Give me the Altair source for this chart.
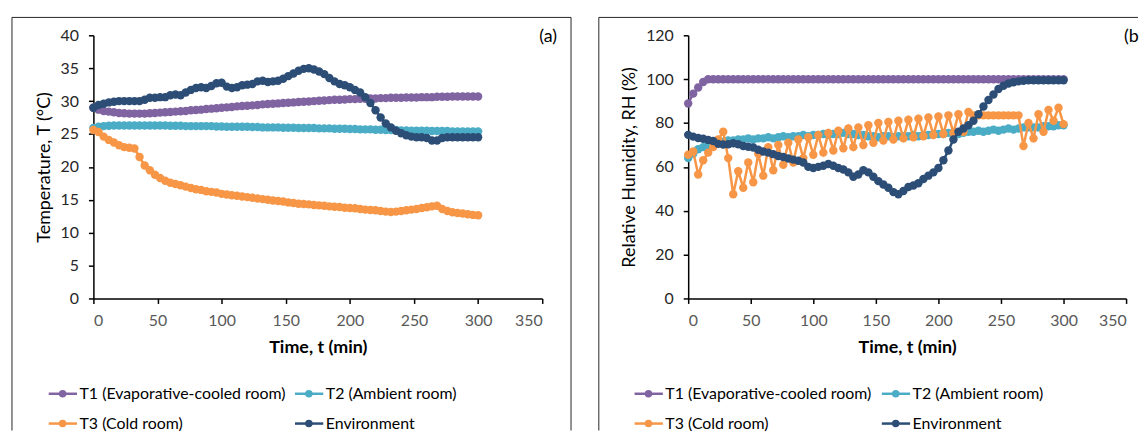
import altair as alt
import pandas as pd

FONT = "Lato"

# ---------------- data ----------------
time_min = [0, 4, 8, 12, 16, 20, 24, 28, 32, 36,
            40, 44, 48, 52, 56, 60, 64, 68, 72, 76,
            80, 84, 88, 92, 96, 100, 104, 108, 112, 116,
            120, 124, 128, 132, 136, 140, 144, 148, 152, 156,
            160, 164, 168, 172, 176, 180, 184, 188, 192, 196,
            200, 204, 208, 212, 216, 220, 224, 228, 232, 236,
            240, 244, 248, 252, 256, 260, 264, 268, 272, 276,
            280, 284, 288, 292, 296, 300]

series_names = ["T1 (Evaporative-cooled room)", "T2 (Ambient room)",
                "T3 (Cold room)", "Environment"]
series_colors = ["#8064A2", "#4BACC6", "#F79646", "#2C4D75"]

# (a) temperature, degC
temp_t1 = [29.0, 28.7, 28.5, 28.4, 28.3, 28.2, 28.15, 28.1, 28.1, 28.1,
           28.1, 28.15, 28.2, 28.25, 28.3, 28.35, 28.4, 28.45, 28.5, 28.6,
           28.65, 28.7, 28.8, 28.85, 28.9, 29.0, 29.05, 29.1, 29.2, 29.25,
           29.3, 29.35, 29.4, 29.5, 29.55, 29.6, 29.65, 29.7, 29.75, 29.8,
           29.85, 29.9, 29.95, 30.0, 30.05, 30.1, 30.15, 30.2, 30.2, 30.25,
           30.3, 30.3, 30.35, 30.35, 30.4, 30.4, 30.45, 30.45, 30.5, 30.5,
           30.5, 30.55, 30.55, 30.55, 30.6, 30.6, 30.6, 30.65, 30.65, 30.65,
           30.7, 30.7, 30.7, 30.7, 30.7, 30.7]
temp_t2 = [25.9, 26.1, 26.2, 26.25, 26.3, 26.3, 26.3, 26.3, 26.3, 26.3,
           26.3, 26.3, 26.3, 26.3, 26.3, 26.25, 26.25, 26.25, 26.2, 26.2,
           26.2, 26.2, 26.2, 26.2, 26.15, 26.15, 26.1, 26.1, 26.1, 26.1,
           26.1, 26.05, 26.05, 26.0, 26.0, 26.0, 26.0, 25.95, 25.95, 25.95,
           25.9, 25.9, 25.9, 25.9, 25.85, 25.85, 25.85, 25.8, 25.8, 25.8,
           25.75, 25.75, 25.7, 25.7, 25.7, 25.65, 25.65, 25.6, 25.6, 25.6,
           25.55, 25.55, 25.5, 25.5, 25.5, 25.5, 25.45, 25.45, 25.45, 25.45,
           25.4, 25.4, 25.4, 25.4, 25.4, 25.4]
temp_t3 = [25.6, 25.3, 24.6, 24.1, 23.7, 23.3, 23.0, 22.9, 22.8, 21.5,
           20.2, 19.5, 18.8, 18.3, 17.9, 17.6, 17.4, 17.2, 17.0, 16.8,
           16.6, 16.5, 16.3, 16.2, 16.1, 15.9, 15.8, 15.7, 15.6, 15.5,
           15.4, 15.3, 15.2, 15.1, 15.0, 14.9, 14.8, 14.75, 14.6, 14.5,
           14.4, 14.35, 14.3, 14.2, 14.15, 14.1, 14.0, 13.95, 13.9, 13.8,
           13.75, 13.7, 13.6, 13.5, 13.45, 13.4, 13.3, 13.2, 13.15, 13.2,
           13.3, 13.4, 13.5, 13.6, 13.75, 13.85, 14.0, 14.1, 13.6, 13.3,
           13.1, 13.0, 12.9, 12.8, 12.7, 12.65]
temp_env = [29.0, 29.4, 29.6, 29.8, 29.9, 30.0, 30.0, 30.0, 30.0, 30.0,
            30.2, 30.5, 30.5, 30.6, 30.6, 30.9, 31.0, 30.9, 31.3, 31.7,
            32.0, 32.1, 32.0, 32.3, 32.7, 32.8, 32.2, 32.0, 32.1, 32.4,
            32.5, 32.6, 33.0, 33.1, 32.9, 33.0, 33.1, 33.4, 33.8, 34.2,
            34.6, 34.9, 35.0, 34.8, 34.5, 34.1, 33.5, 33.0, 32.6, 32.4,
            32.1, 31.7, 31.3, 30.6, 29.7, 28.6, 27.5, 26.6, 26.0, 25.5,
            25.1, 24.8, 24.6, 24.5, 24.5, 24.4, 24.0, 24.0, 24.4, 24.5,
            24.5, 24.5, 24.5, 24.5, 24.5, 24.5]

# (b) relative humidity, %
rh_t1 = [88.9, 93.4, 96.2, 98.7, 100.0, 100.0, 100.0, 100.0, 100.0, 100.0,
         100.0, 100.0, 100.0, 100.0, 100.0, 100.0, 100.0, 100.0, 100.0, 100.0,
         100.0, 100.0, 100.0, 100.0, 100.0, 100.0, 100.0, 100.0, 100.0, 100.0,
         100.0, 100.0, 100.0, 100.0, 100.0, 100.0, 100.0, 100.0, 100.0, 100.0,
         100.0, 100.0, 100.0, 100.0, 100.0, 100.0, 100.0, 100.0, 100.0, 100.0,
         100.0, 100.0, 100.0, 100.0, 100.0, 100.0, 100.0, 100.0, 100.0, 100.0,
         100.0, 100.0, 100.0, 100.0, 100.0, 100.0, 100.0, 100.0, 100.0, 100.0,
         100.0, 100.0, 100.0, 100.0, 100.0, 100.0]
rh_t2 = [64.0, 66.0, 68.0, 69.0, 70.0, 70.5, 71.0, 71.5, 72.0, 72.0,
         72.5, 72.5, 73.0, 72.5, 73.0, 73.0, 73.5, 73.0, 73.5, 74.0,
         73.5, 74.0, 74.0, 74.5, 74.0, 74.5, 74.5, 75.0, 74.5, 75.0,
         75.0, 75.5, 75.0, 75.0, 74.5, 74.5, 74.0, 74.0, 73.5, 74.0,
         74.0, 73.5, 74.0, 74.0, 74.0, 74.5, 74.0, 74.5, 74.5, 75.0,
         75.0, 75.0, 75.5, 75.5, 75.0, 75.5, 76.0, 76.0, 76.5, 76.0,
         76.5, 77.0, 76.5, 77.0, 77.5, 77.0, 77.5, 78.0, 78.0, 78.0,
         78.0, 78.5, 78.5, 78.5, 79.0, 79.0]
rh_t3 = [65.5, 67.0, 56.5, 63.0, 66.5, 69.0, 72.5, 76.0, 64.0, 47.5,
         58.0, 50.5, 62.0, 53.0, 66.0, 56.0, 69.0, 58.5, 70.0, 61.0,
         71.0, 62.0, 72.5, 64.0, 73.5, 65.5, 74.5, 66.5, 75.5, 67.5,
         76.5, 68.5, 77.5, 69.0, 78.0, 70.0, 79.0, 71.0, 80.0, 72.0,
         80.5, 72.5, 81.0, 73.0, 81.5, 73.5, 82.0, 74.0, 82.5, 74.5,
         83.0, 75.0, 83.5, 75.5, 84.0, 76.0, 85.0, 83.5, 83.5, 83.5,
         83.5, 83.5, 83.5, 83.5, 83.5, 83.5, 83.5, 69.5, 80.0, 73.0,
         84.0, 76.0, 86.0, 81.0, 87.0, 79.5]
rh_env = [74.6, 73.8, 73.2, 72.8, 72.3, 71.8, 70.5, 70.2, 70.3, 70.8,
          70.3, 69.5, 69.2, 68.8, 67.8, 67.0, 66.5, 65.8, 65.0, 64.5,
          63.8, 63.3, 62.8, 62.0, 60.0, 59.5, 60.0, 60.5, 61.3, 60.5,
          59.5, 58.8, 57.5, 55.5, 56.5, 58.5, 57.5, 55.5, 53.5, 52.0,
          50.5, 48.5, 47.5, 49.0, 50.8, 51.5, 52.5, 54.5, 56.0, 57.5,
          59.5, 63.0, 67.5, 72.5, 76.0, 77.5, 79.0, 81.0, 84.0, 87.5,
          90.5, 93.0, 95.5, 97.0, 98.0, 98.6, 99.0, 99.3, 99.5, 99.5,
          99.5, 99.5, 99.5, 99.5, 99.5, 99.5]

x_ticks = [0, 50, 100, 150, 200, 250, 300, 350]
temp_ticks = [0, 5, 10, 15, 20, 25, 30, 35, 40]
rh_ticks = [0, 20, 40, 60, 80, 100, 120]

# ---------------- layout / style ----------------
PLOT_H = 265
FRAME = "#262626"
MARK_SIZE = 72


def panel(values_list, y_title, y_ticks, width, tag, tag_x, tag_limit,
          frame_left, frame_right, top_end, legend_cols):
    x_scale = alt.Scale(domain=[0, 350], nice=False)
    y_scale = alt.Scale(domain=[y_ticks[0], y_ticks[-1]], nice=False)
    x_axis = alt.Axis(values=x_ticks, title="Time, t (min)", grid=False,
                      domainColor="#000000", domainWidth=1.5,
                      tickColor="#000000", tickWidth=1.5, tickSize=5,
                      labelColor="#595959", labelFont=FONT, labelFontSize=16,
                      labelPadding=9, titleFont=FONT, titleFontSize=18,
                      titleFontWeight="bold", titleColor="#000000",
                      titlePadding=10)
    y_axis = alt.Axis(values=y_ticks, title=y_title, grid=False,
                      domainColor="#000000", domainWidth=1.5,
                      tickColor="#000000", tickWidth=1.5, tickSize=5,
                      labelColor="#262626", labelFont=FONT, labelFontSize=16,
                      labelPadding=10, titleFont=FONT, titleFontSize=18,
                      titleFontWeight="normal", titleColor="#000000",
                      titlePadding=7)
    layers = []
    for name, color, vals in zip(series_names, series_colors, values_list):
        df = pd.DataFrame({"t": time_min, "v": vals, "series": name})
        enc = dict(x=alt.X("t:Q", scale=x_scale, axis=x_axis),
                   y=alt.Y("v:Q", scale=y_scale, axis=y_axis))
        layers.append(alt.Chart(df).mark_line(color=color, strokeWidth=2.5).encode(**enc))
        layers.append(alt.Chart(df).mark_circle(color=color, size=MARK_SIZE, opacity=1).encode(**enc))

    one = pd.DataFrame({"k": [0]})
    # panel tag "(a)" / "(b)"
    layers.append(alt.Chart(one).mark_text(text=tag, align="left", baseline="middle",
                                           font=FONT, fontSize=18, color="#000000",
                                           limit=tag_limit, ellipsis="\u200b")
                  .encode(x=alt.value(tag_x), y=alt.value(2)))
    # chart frame (Excel chart border)
    layers.append(alt.Chart(one).mark_rule(color=FRAME, strokeWidth=1)
                  .encode(x=alt.value(frame_left), y=alt.value(-18), y2=alt.value(398)))
    layers.append(alt.Chart(one).mark_rule(color=FRAME, strokeWidth=1)
                  .encode(x=alt.value(frame_left), x2=alt.value(top_end), y=alt.value(-18)))
    if frame_right is not None:
        layers.append(alt.Chart(one).mark_rule(color=FRAME, strokeWidth=1)
                      .encode(x=alt.value(frame_right), y=alt.value(-18), y2=alt.value(398)))

    # legend: two columns, two rows under the plot
    rows_y = [361, 391]
    leg = pd.DataFrame({
        "label": series_names,
        "color": series_colors,
        "x0": [legend_cols[i % 2] for i in range(4)],
        "yy": [rows_y[i // 2] for i in range(4)],
    })
    leg["x1"] = leg["x0"] + 28.5
    leg["xm"] = leg["x0"] + 14
    leg["xt"] = leg["x0"] + 31
    ly = alt.Y("yy:Q", scale=None, axis=None)
    lc = alt.Color("color:N", scale=None, legend=None)
    layers.append(alt.Chart(leg).mark_rule(strokeWidth=2.5)
                  .encode(x=alt.X("x0:Q", scale=None, axis=None), x2="x1:Q", y=ly, color=lc))
    layers.append(alt.Chart(leg).mark_circle(size=56, opacity=1)
                  .encode(x=alt.X("xm:Q", scale=None, axis=None), y=ly, color=lc))
    layers.append(alt.Chart(leg).mark_text(align="left", baseline="middle", font=FONT,
                                           fontSize=16, color="#000000")
                  .encode(x=alt.X("xt:Q", scale=None, axis=None), y=ly, text="label:N"))

    return alt.layer(*layers).properties(width=width, height=PLOT_H)


left = panel([temp_t1, temp_t2, temp_t3, temp_env], "Temperature, T (°C)", temp_ticks,
             452, "(a)", 449, 40, -82, 481, 481, [-45, 203])
right = panel([rh_t1, rh_t2, rh_t3, rh_env], "Relative Humidity, RH (%)", rh_ticks,
              441, "(b)", 439, 16, -90, None, 453, [-54, 195])

chart = (alt.hconcat(left, right, spacing=26)
         .properties(padding={"left": 3, "top": 7, "right": 0, "bottom": 0})
         .configure(font=FONT)
         .configure_view(strokeWidth=0))

chart.save("out.html", embed_options={"renderer": "svg", "actions": False})
